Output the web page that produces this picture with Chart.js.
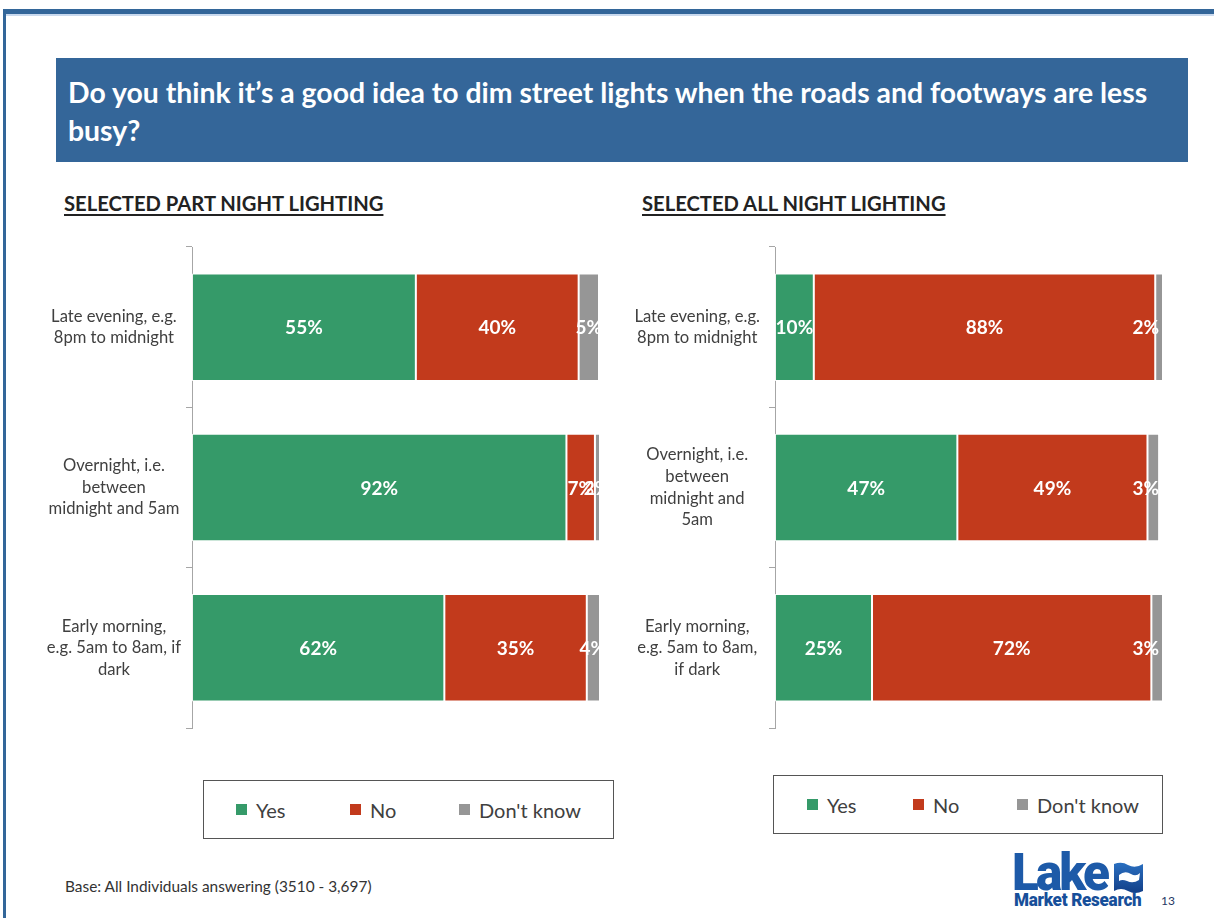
<!DOCTYPE html>
<html>
<head>
<meta charset="utf-8">
<script src="https://cdn.jsdelivr.net/npm/chart.js@4.4.1/dist/chart.umd.min.js"></script>
<style>
  html, body { margin:0; padding:0; background:#fff; }
  body { width:1214px; height:918px; position:relative; overflow:hidden; font-family:Lato, "Open Sans", sans-serif; }
  .topbar { position:absolute; left:3px; top:9px; width:1211px; height:5px; background:#336699; }
  .topbar2 { position:absolute; left:6px; top:14px; width:1208px; height:2px; background:#c9d9ee; }
  .leftbar { position:absolute; left:3px; top:9px; width:3px; height:909px; background:#336699; }
  .banner { position:absolute; left:56px; top:58px; width:1132px; height:104px; background:#346699; }
  .banner div { position:absolute; left:12px; top:15px; color:#fff; font-weight:700; font-size:28.4px; line-height:38px; white-space:nowrap; }
  .sub { position:absolute; top:191px; font-weight:700; font-size:20.2px; color:#222; text-decoration:underline; text-underline-offset:3px; }
  .chartbox { position:absolute; }
  .legend { position:absolute; border:1px solid #555; box-sizing:border-box; background:#fff; }
  .li { position:absolute; top:0; height:100%; display:flex; align-items:center; font-size:20px; color:#404040; }
  .li span.sw { display:inline-block; width:11px; height:11px; margin-right:9px; }
  .base { position:absolute; left:65px; top:877px; font-size:15.4px; color:#333; }
  .logo1 { position:absolute; left:1012px; top:843px; font-family:Roboto, sans-serif; font-weight:900; font-size:52px; color:#1d5aa8; letter-spacing:-3px; line-height:60px; transform:scaleX(0.95); transform-origin:left; }
  .logo2 { position:absolute; left:1014px; top:890px; font-family:Roboto, sans-serif; font-weight:900; font-size:18px; color:#174f9a; line-height:20px; transform:scaleX(0.95); transform-origin:left; white-space:nowrap; letter-spacing:-0.3px; }
  .pnum { position:absolute; left:1161px; top:893px; font-size:12px; color:#1f3864; }
</style>
</head>
<body>
<div class="topbar"></div>
<div class="topbar2"></div>
<div class="leftbar"></div>
<div class="banner"><div>Do you think it’s a good idea to dim street lights when the roads and footways are less<br>busy?</div></div>

<div class="sub" style="left:64px;">SELECTED PART NIGHT LIGHTING</div>
<div class="sub" style="left:642px;">SELECTED ALL NIGHT LIGHTING</div>

<div class="chartbox" style="left:20px; top:237px; width:591px; height:501px;"><canvas id="c1"></canvas></div>
<div class="chartbox" style="left:590px; top:237px; width:585px; height:501px;"><canvas id="c2"></canvas></div>

<div class="legend" style="left:203px; top:780px; width:411px; height:59px;">
  <div class="li" style="left:32px;"><span class="sw" style="background:#359a69"></span>Yes</div>
  <div class="li" style="left:146px;"><span class="sw" style="background:#c23a1c"></span>No</div>
  <div class="li" style="left:255px;"><span class="sw" style="background:#969696"></span>Don't know</div>
</div>
<div class="legend" style="left:773px; top:775px; width:390px; height:59px;">
  <div class="li" style="left:33px;"><span class="sw" style="background:#359a69"></span>Yes</div>
  <div class="li" style="left:139px;"><span class="sw" style="background:#c23a1c"></span>No</div>
  <div class="li" style="left:243px;"><span class="sw" style="background:#969696"></span>Don't know</div>
</div>

<div class="base">Base: All Individuals answering (3510 - 3,697)</div>
<div class="logo1">Lake</div>
<svg style="position:absolute; left:1113px; top:860px;" width="32" height="34" viewBox="0 0 32 34">
  <defs><linearGradient id="lg" x1="0" y1="0" x2="0" y2="1"><stop offset="0" stop-color="#2a6fc0"/><stop offset="1" stop-color="#123f88"/></linearGradient></defs>
  <path d="M1 4 Q9 1 15 5 Q22 9 30 4 L30 31 Q22 35 15 31 Q8 27 1 31 Z" fill="url(#lg)"/>
  <path d="M6 15 Q12 10 18 14 Q23 17 27 13 L26 20 Q20 24 14 21 Q9 19 6 21 Z" fill="#fff"/>
</svg>
<div class="logo2">Market Research</div>
<div class="pnum">13</div>

<script>
// ---- Data ----
const series = ["Yes", "No", "Don't know"];
const colors = ["#359a69", "#c23a1c", "#969696"];

const partCategories = [
  ["Late evening, e.g.", "8pm to midnight"],
  ["Overnight, i.e.", "between", "midnight and 5am"],
  ["Early morning,", "e.g. 5am to 8am, if", "dark"]
];
const partYes = [55, 92, 62];
const partNo = [40, 7, 35];
const partDontKnow = [5, 2, 4];

const allCategories = [
  ["Late evening, e.g.", "8pm to midnight"],
  ["Overnight, i.e.", "between", "midnight and", "5am"],
  ["Early morning,", "e.g. 5am to 8am,", "if dark"]
];
const allYes = [10, 47, 25];
const allNo = [88, 49, 72];
const allDontKnow = [2, 3, 3];

const axisMax = 100;

// ---- Plugin: value labels inside bar segments ----
const barLabels = {
  id: 'barLabels',
  afterDatasetsDraw(chart, args, opts) {
    const { ctx, chartArea } = chart;
    ctx.save();
    ctx.font = 'bold 19px Lato, "Open Sans", sans-serif';
    ctx.fillStyle = '#ffffff';
    ctx.textAlign = 'center';
    ctx.textBaseline = 'middle';
    ctx.beginPath();
    ctx.rect(0, 0, chartArea.right, chart.height);
    ctx.clip();
    chart.data.datasets.forEach((ds, i) => {
      const meta = chart.getDatasetMeta(i);
      meta.data.forEach((bar, j) => {
        const txt = ds.data[j] + '%';
        const x1 = Math.min(bar.x, chartArea.right);
        const x0 = Math.min(bar.base, chartArea.right);
        let cx = (x0 + x1) / 2;
        if (opts && opts.fitInside) {
          const w = ctx.measureText(txt).width;
          cx = Math.min(cx, chartArea.right - opts.fitInside - w / 2);
        }
        ctx.fillText(txt, cx, bar.y + 1);
      });
    });
    ctx.restore();
  }
};

function makeChart(id, labels, yes, no, dk, axisWidth, pad, labelPad, fitInside) {
  const values = [yes, no, dk];
  return new Chart(document.getElementById(id), {
    type: 'bar',
    data: {
      labels: labels,
      datasets: series.map((s, i) => ({
        label: s,
        data: values[i],
        backgroundColor: colors[i],
        borderColor: 'rgba(255,255,255,0.85)',
        borderWidth: 1,
        borderSkipped: false,
        categoryPercentage: 1,
        barPercentage: 0.67
      }))
    },
    options: {
      indexAxis: 'y',
      responsive: true,
      maintainAspectRatio: false,
      animation: false,
      layout: { padding: pad },
      plugins: { legend: { display: false }, tooltip: { enabled: false }, barLabels: { fitInside: fitInside } },
      scales: {
        x: { stacked: true, min: 0, max: axisMax, display: false },
        y: {
          stacked: true,
          grid: { display: true, drawOnChartArea: false, drawTicks: true, tickLength: 6, color: '#a6a6a6', offset: true },
          border: { display: true, color: '#a6a6a6', width: 1 },
          ticks: {
            crossAlign: 'center',
            padding: labelPad,
            color: '#404040',
            font: { family: 'Lato, "Open Sans", sans-serif', size: 16.6, lineHeight: 1.3 }
          },
          afterFit(scale) { scale.width = axisWidth; scale.paddingTop = 0; scale.paddingBottom = 0; }
        }
      }
    },
    plugins: [barLabels]
  });
}

makeChart('c1', partCategories, partYes, partNo, partDontKnow, 172, { top: 10, bottom: 10, right: 12, left: 0 }, 5, 0);
makeChart('c2', allCategories, allYes, allNo, allDontKnow, 185, { top: 10, bottom: 10, right: 12, left: 0 }, 9, 4);
</script>
</body>
</html>
